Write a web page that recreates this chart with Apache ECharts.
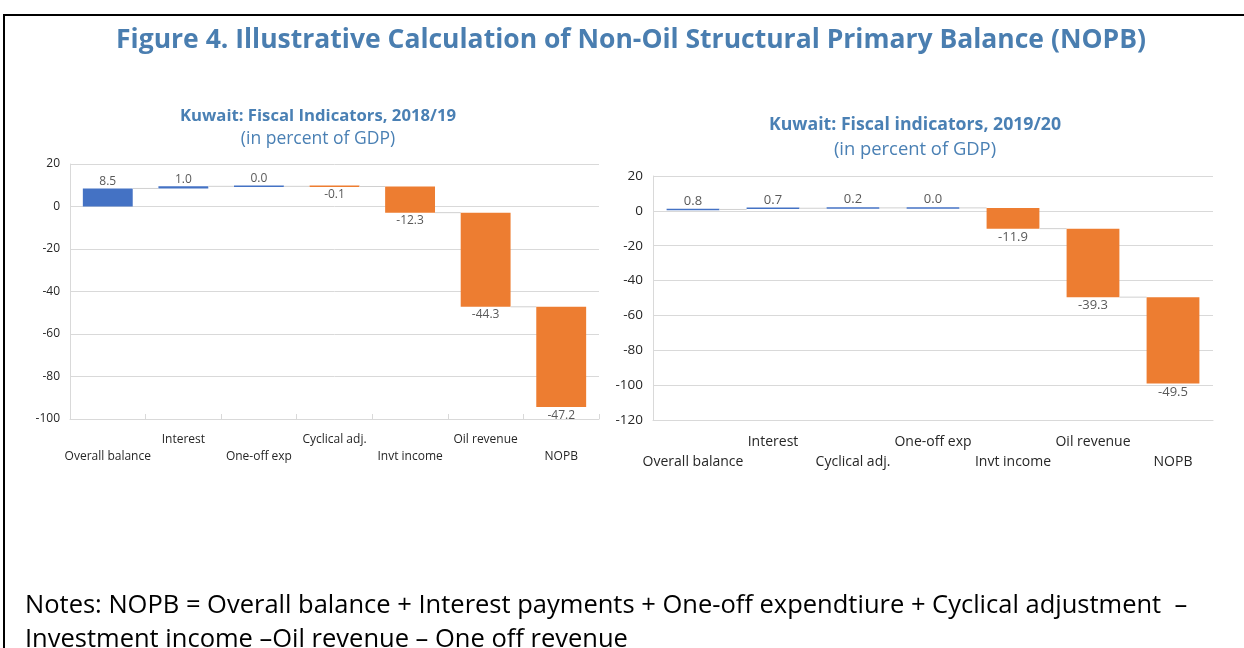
<!DOCTYPE html>
<html>
<head>
<meta charset="utf-8">
<title>Figure 4</title>
<script src="https://cdn.jsdelivr.net/npm/echarts@6/dist/echarts.min.js"></script>
<style>
  body { margin: 0; background: #fff; overflow: hidden; }
  #frame { position: absolute; left: 3px; top: 14px; width: 1260px; height: 700px;
           border-left: 2px solid #000; border-top: 2px solid #000; }
  #chart { position: absolute; left: 0; top: 0; width: 1244px; height: 648px; }
  .t { position: absolute; text-align: center; font-family: "Open Sans", sans-serif; color: #4a80b4; white-space: nowrap; }
  #title { left: 0; width: 1262px; top: 20px; font-size: 26.5px; font-weight: bold; color: #4a7eb0; }
  #notes { position: absolute; left: 25px; top: 586px; font-family: "Open Sans", sans-serif;
           font-size: 25.5px; line-height: 34px; color: #000; white-space: nowrap; }
</style>
</head>
<body>
<div id="frame"></div>
<div id="chart"></div>
<div class="t" id="title">Figure 4. Illustrative Calculation of Non-Oil Structural Primary Balance (NOPB)</div>
<div class="t" style="left:168px;width:300px;top:103px;font-size:16.7px;font-weight:bold;">Kuwait: Fiscal Indicators, 2018/19</div>
<div class="t" style="left:168px;width:300px;top:125px;font-size:17.5px;">(in percent of GDP)</div>
<div class="t" style="left:765px;width:300px;top:111px;font-size:17.7px;font-weight:bold;">Kuwait: Fiscal indicators, 2019/20</div>
<div class="t" style="left:765px;width:300px;top:135px;font-size:18.4px;">(in percent of GDP)</div>
<div id="notes">Notes: NOPB = Overall balance + Interest payments + One-off expendtiure + Cyclical adjustment &nbsp;–<br>Investment income –Oil revenue – One off revenue</div>

<script>
// 2018/19
const categories1 = ['Overall balance', 'Interest', 'One-off exp', 'Cyclical adj.', 'Invt income', 'Oil revenue', 'NOPB'];
const changes1 = [8.5, 1.0, 0.0, -0.1, -12.3, -44.3, -47.2];
// 2019/20
const categories2 = ['Overall balance', 'Interest', 'Cyclical adj.', 'One-off exp', 'Invt income', 'Oil revenue', 'NOPB'];
const changes2 = [0.8, 0.7, 0.2, 0.0, -11.9, -39.3, -49.5];

const yTicks1 = { min: -100, max: 20, interval: 20 };
const yTicks2 = { min: -120, max: 20, interval: 20 };

const blue = '#4472c4';
const orange = '#ed7d31';
const gridGray = '#d9d9d9';

// start / end of each floating bar
function steps(changes) {
  let run = 0;
  return changes.map(function (v, i) {
    const s = run;
    run = Math.round((run + v) * 10) / 10;
    return [i, s, run, v];
  });
}

function makeRender(n, fs) {
  return function (params, api) {
    const i = api.value(0), s = api.value(1), e = api.value(2), v = api.value(3);
    const w = api.size([1, 0])[0] * 0.66;
    const p1 = api.coord([i, s]);
    const p2 = api.coord([i, e]);
    let top = Math.min(p1[1], p2[1]);
    let h = Math.abs(p1[1] - p2[1]);
    if (h < 1.5) { top = top - 0.75; h = 1.5; }
    const x = p1[0] - w / 2;
    const kids = [{
      type: 'rect',
      shape: { x: x, y: top, width: w, height: h },
      style: { fill: v >= 0 ? blue : orange }
    }];
    if (i < n - 1) {
      const nx = api.coord([i + 1, e]);
      kids.push({
        type: 'line',
        shape: { x1: x + w, y1: p2[1], x2: nx[0] - w / 2, y2: p2[1] },
        style: { stroke: '#d0d0d0', lineWidth: 1 }
      });
    }
    kids.push({
      type: 'text',
      x: p1[0],
      y: v >= 0 ? top - 1 : top + h + 2,
      style: {
        text: v.toFixed(1),
        align: 'center',
        verticalAlign: v >= 0 ? 'bottom' : 'top',
        fill: '#595959',
        font: fs + 'px "Open Sans", sans-serif'
      }
    });
    return { type: 'group', children: kids };
  };
}

function stagger(v, i) {
  return i % 2 ? v + '\n ' : ' \n' + v;
}

const chart = echarts.init(document.getElementById('chart'));
const option = {
  animation: false,
  grid: [
    { left: 70, top: 164, width: 529, height: 255 },
    { left: 653, top: 176, width: 560, height: 244 }
  ],
  xAxis: [0, 1].map(function (k) {
    return {
      type: 'category',
      gridIndex: k,
      data: k ? categories2 : categories1,
      axisLine: { onZero: false, lineStyle: { color: gridGray } },
      axisTick: { show: k === 0, inside: true, length: 5, lineStyle: { color: gridGray } },
      axisLabel: {
        interval: 0,
        formatter: stagger,
        color: '#262626',
        fontFamily: 'Open Sans',
        fontSize: k ? 14 : 12,
        lineHeight: k ? 20 : 17,
        margin: 12
      }
    };
  }),
  yAxis: [yTicks1, yTicks2].map(function (t, k) {
    return {
      type: 'value',
      gridIndex: k,
      min: t.min,
      max: t.max,
      interval: t.interval,
      axisLine: { show: true, lineStyle: { color: gridGray } },
      axisTick: { show: false },
      splitLine: { lineStyle: { color: gridGray } },
      axisLabel: { color: '#262626', fontFamily: 'Open Sans', fontSize: k ? 13.5 : 12, margin: 10 }
    };
  }),
  series: [
    {
      type: 'custom',
      xAxisIndex: 0,
      yAxisIndex: 0,
      renderItem: makeRender(changes1.length, 12),
      encode: { x: 0, y: [1, 2] },
      data: steps(changes1)
    },
    {
      type: 'custom',
      xAxisIndex: 1,
      yAxisIndex: 1,
      renderItem: makeRender(changes2.length, 13),
      encode: { x: 0, y: [1, 2] },
      data: steps(changes2)
    }
  ]
};
chart.setOption(option);
window.addEventListener('resize', function () {
  chart.resize();
});
</script>
</body>
</html>
